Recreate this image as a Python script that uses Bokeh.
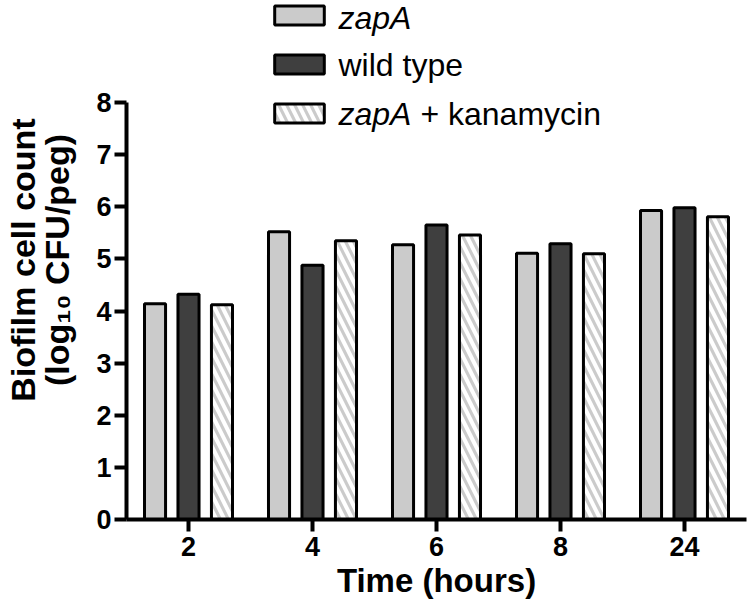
import numpy as np
from bokeh.plotting import figure
from bokeh.models import Label, Legend, LegendItem, FixedTicker, Range1d
from bokeh.embed import file_html
from bokeh.resources import INLINE

# ---- data ----
times = ["2", "4", "6", "8", "24"]
zapA = [4.14, 5.52, 5.27, 5.11, 5.93]
wild_type = [4.32, 4.88, 5.65, 5.29, 5.98]
zapA_kan = [4.12, 5.35, 5.46, 5.10, 5.81]
y_ticks = [0, 1, 2, 3, 4, 5, 6, 7, 8]

FONT = "Liberation Sans"

xpos = np.arange(1, len(times) + 1)

p = figure(width=748, height=606, x_range=Range1d(0.5, 5.5), y_range=Range1d(0, 9.957),
           output_backend="svg", toolbar_location=None,
           min_border_left=126, min_border_right=2, min_border_top=0, min_border_bottom=87)
p.outline_line_color = None
p.xgrid.visible = False
p.ygrid.visible = False

bw = 0.17
off = 0.27
r1 = p.vbar(x=xpos - off, top=zapA, bottom=0, width=bw, fill_color="#cbcbcb",
            line_color="black", line_width=3)
r2 = p.vbar(x=xpos, top=wild_type, bottom=0, width=bw, fill_color="#3f3f3f",
            line_color="black", line_width=3)
r3 = p.vbar(x=xpos + off, top=zapA_kan, bottom=0, width=bw, fill_color="#cbcbcb",
            line_color="black", line_width=3, hatch_pattern="\\", hatch_color="white",
            hatch_weight=4, hatch_scale=16)

# axes
for ax in (p.xaxis[0], p.yaxis[0]):
    ax.axis_line_width = 4
    ax.axis_line_color = "black"
    ax.major_tick_line_width = 4
    ax.major_tick_line_color = "black"
    ax.major_tick_out = 12
    ax.major_tick_in = 0
    ax.minor_tick_line_color = None
    ax.major_label_text_font = FONT
    ax.major_label_text_font_style = "bold"
    ax.major_label_text_font_size = "27px"
    ax.major_label_text_color = "black"
    ax.axis_label_text_font = FONT
    ax.axis_label_text_font_style = "bold"
    ax.axis_label_text_color = "black"

p.xaxis.ticker = FixedTicker(ticks=list(xpos))
p.xaxis.major_label_overrides = {int(i): t for i, t in zip(xpos, times)}
p.xaxis.major_label_standoff = 5
p.xaxis.axis_label = "Time (hours)"
p.xaxis.axis_label_standoff = 3
p.xaxis.axis_label_text_font_size = "33px"

p.yaxis.ticker = FixedTicker(ticks=y_ticks)
p.yaxis.bounds = (0, 8)
p.yaxis.major_label_standoff = 3
p.yaxis.axis_label = "Biofilm cell count\n(log\u2081\u2080 CFU/peg)"
p.yaxis.axis_label_standoff = 17
p.yaxis.axis_label_text_font_size = "34px"
p.yaxis.axis_label_text_line_height = 0.9

# legend swatches
legend = Legend(items=[LegendItem(label=" ", renderers=[r1]),
                       LegendItem(label=" ", renderers=[r2]),
                       LegendItem(label=" ", renderers=[r3])],
                location=(142, 394), orientation="vertical",
                glyph_width=62, glyph_height=24, spacing=25, padding=0, margin=0,
                label_text_font_size="1px", label_height=1, label_width=1,
                label_standoff=0, border_line_alpha=0, background_fill_alpha=0)
p.add_layout(legend, "center")

# legend texts
row_y = [502, 455, 406]
lx = 212
common = dict(x=0.5, y=0, text_baseline="middle", text_align="left", text_font=FONT,
              text_font_size="32px", text_color="black")
p.add_layout(Label(x_offset=lx, y_offset=row_y[0], text="zapA", text_font_style="italic", **common))
p.add_layout(Label(x_offset=lx, y_offset=row_y[1], text="wild type", **common))
p.add_layout(Label(x_offset=lx, y_offset=row_y[2], text="zapA", text_font_style="italic", **common))
p.add_layout(Label(x_offset=lx + 2.279 * 32 + 9, y_offset=row_y[2], text="+ kanamycin", **common))

open("out.html", "w").write(file_html(p, INLINE))
